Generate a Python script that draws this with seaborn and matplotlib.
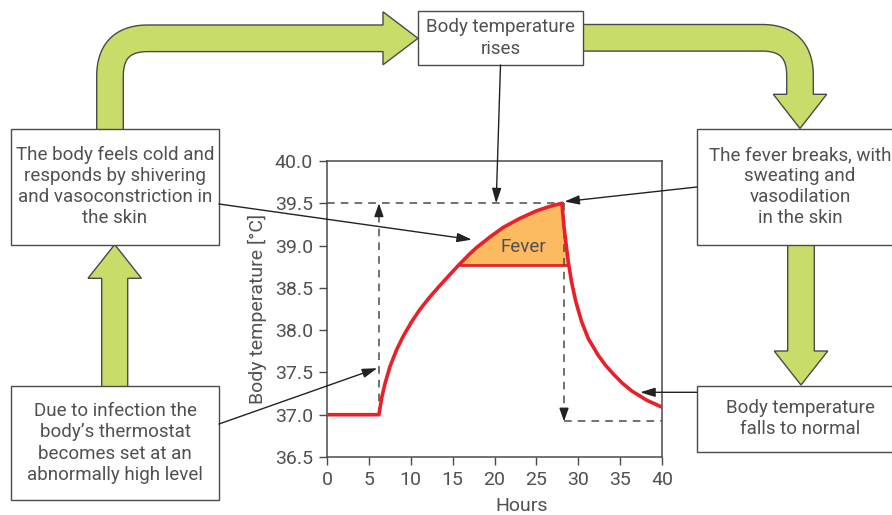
import numpy as np
import pandas as pd
import matplotlib
matplotlib.use("Agg")
import matplotlib.pyplot as plt
import seaborn as sns
from matplotlib.patches import Polygon, Rectangle

# data
hours = [0, 6.2, 6.53, 6.93, 7.52, 8.32, 9.11, 10.11, 11.1, 12.3, 13.5, 14.7,
         15.68, 17.07, 17.9, 19.5, 21.05, 23.0, 25.0, 26.5, 28.05,
         28.3, 28.54, 28.81, 29.2, 29.7, 30.4, 31.2, 32.4, 33.3, 34.2, 35.3,
         36.4, 38.2, 40.0]
temps = [37.0, 37.0, 37.20, 37.37, 37.57, 37.77, 37.93, 38.10, 38.245, 38.395,
         38.53, 38.66, 38.765, 38.905, 38.98, 39.105, 39.215, 39.32, 39.41, 39.46,
         39.5, 39.22, 39.02, 38.81, 38.57, 38.34, 38.10, 37.90, 37.70, 37.58,
         37.48, 37.37, 37.28, 37.17, 37.09]
fever_level = 38.77
fever_start, fever_end = 15.7, 28.8
set_point = 39.5
normal_level = 36.92
rise_hour = 6.2
break_hour = 28.3

x_ticks = list(range(0, 45, 5))
y_ticks = [36.5, 37.0, 37.5, 38.0, 38.5, 39.0, 39.5, 40.0]

df = pd.DataFrame({"Hours": hours, "Temp": temps})

sns.set_theme(style="ticks")
plt.rcParams["font.family"] = ["Roboto", "DejaVu Sans"]
txt = "#505050"
edge = "#4a4a4a"
red = "#e8202a"
green = "#c8dc6a"

fig = plt.figure(figsize=(8.92, 5.15), dpi=100)
W, H = 892, 515
ax = fig.add_axes([327 / W, 1 - 457 / H, 335 / W, 296 / H])

# fever area
t = np.array(temps)
ax.fill_between(hours, t, fever_level, where=t >= fever_level, interpolate=True,
                color="#fbb960", linewidth=0, zorder=2)
ax.hlines(fever_level, fever_start, fever_end, color=red, lw=2, zorder=3)
sns.lineplot(data=df, x="Hours", y="Temp", ax=ax, color=red, lw=2.6,
             sort=False, zorder=4, solid_joinstyle="round")
ax.text(23.4, 38.98, "Fever", ha="center", va="center", fontsize=13.5, color=txt)

# dashed guide lines
dash = dict(color=edge, lw=1.1, ls=(0, (5, 4)), zorder=3)
ax.plot([0, break_hour], [set_point, set_point], **dash)
ax.plot([rise_hour, rise_hour], [37.0, set_point - 0.05], **dash)
ax.plot([break_hour, break_hour], [set_point, normal_level + 0.05], **dash)
ax.plot([break_hour, 40], [normal_level, normal_level], **dash)
head = dict(arrowstyle="-|>,head_length=0.8,head_width=0.28", color="#222222",
            lw=1, shrinkA=0, shrinkB=0, mutation_scale=10)
ax.annotate("", xy=(rise_hour, set_point), xytext=(rise_hour, set_point - 0.15),
            arrowprops=head, zorder=5)
ax.annotate("", xy=(break_hour, normal_level),
            xytext=(break_hour, normal_level + 0.15), arrowprops=head, zorder=5)

ax.set_xlim(0, 40)
ax.set_ylim(36.5, 40.0)
ax.set_xticks(x_ticks)
ax.set_yticks(y_ticks)
ax.set_yticklabels([f"{v:.1f}" for v in y_ticks])
ax.tick_params(labelsize=14, colors=txt, length=6, width=1, color=edge, pad=4)
for s in ax.spines.values():
    s.set_color(edge)
    s.set_linewidth(1.1)
    s.set_visible(True)
ax.set_xlabel("Hours", fontsize=14, color=txt)
ax.xaxis.set_label_coords(0.58, -0.135)
ax.set_ylabel("Body temperature [°C]", fontsize=14, color=txt, labelpad=6)

# overlay in pixel coordinates for the flow diagram
ov = fig.add_axes([0, 0, 1, 1], facecolor="none")
ov.set_xlim(0, W)
ov.set_ylim(H, 0)
ov.axis("off")


def fat_arrow(pts, tip, w, hw):
    pts = np.asarray(pts, float)
    d = np.gradient(pts, axis=0)
    d /= np.linalg.norm(d, axis=1)[:, None]
    nrm = np.column_stack([-d[:, 1], d[:, 0]])
    left = pts + nrm * w
    right = pts - nrm * w
    hb, nb = pts[-1], nrm[-1]
    poly = np.vstack([left, [hb + nb * hw, tip, hb - nb * hw], right[::-1]])
    ov.add_patch(Polygon(poly, closed=True, fc=green, ec=edge, lw=1, zorder=1))


def bent(p0, pc, p1, r, n=40):
    p0, pc, p1 = map(lambda p: np.array(p, float), (p0, pc, p1))
    d1 = (pc - p0) / np.linalg.norm(pc - p0)
    d2 = (p1 - pc) / np.linalg.norm(p1 - pc)
    a, b = pc - d1 * r, pc + d2 * r
    s1 = [p0 + (a - p0) * u for u in np.linspace(0, 1, 20)[:-1]]
    tt = np.linspace(0, 1, n)
    arc = [(1 - u) ** 2 * a + 2 * u * (1 - u) * pc + u ** 2 * b for u in tt]
    s2 = [b + (p1 - b) * u for u in np.linspace(0, 1, 20)[1:]]
    return s1 + arc + s2


def straight(p0, p1):
    p0, p1 = np.array(p0, float), np.array(p1, float)
    return [p0 + (p1 - p0) * u for u in np.linspace(0, 1, 20)]


fat_arrow(bent((110, 130), (110, 38.3), (383, 38.3), 38), (418, 38.3), 13.3, 26.5)
fat_arrow(bent((580, 37.8), (800, 37.8), (800, 94.3), 38), (800, 128.5), 13.3, 26.7)
fat_arrow(straight((801, 242), (801, 351)), (801, 385), 13.3, 26.8)
fat_arrow(straight((114.7, 388), (114.7, 278.3)), (114.7, 244.5), 13, 26.7)

boxes = [
    ((418, 11), 165, 54, "Body temperature\nrises", (500.5, 38)),
    ((11, 128.5), 208, 116, "The body feels cold and\nresponds by shivering\n"
     "and vasoconstriction in\nthe skin", (115, 186.5)),
    ((697, 128.5), 210, 116, "The fever breaks, with\nsweating and\nvasodilation\n"
     "in the skin", (800, 186.5)),
    ((11, 385.5), 208, 114.5, "Due to infection the\nbody’s thermostat\n"
     "becomes set at an\nabnormally high level", (115, 443)),
    ((697, 385.5), 210, 66, "Body temperature\nfalls to normal", (800, 418.7)),
]
for (x0, y0), bw, bh, label, (cx, cy) in boxes:
    ov.add_patch(Rectangle((x0, y0), bw, bh, fc="white", ec=edge, lw=1,
                           zorder=2, clip_on=False))
    ov.text(cx, cy, label, ha="center", va="center", fontsize=13.5, color=txt,
            linespacing=1.22, zorder=3)

# thin pointer arrows from boxes to the curve
thin = dict(arrowstyle="-|>,head_length=0.9,head_width=0.28", color="#222222",
            lw=1, shrinkA=0, shrinkB=0, mutation_scale=10)
pointers = [
    ((500.5, 65), (20.2, set_point)),
    ((697, 187), (28.35, 39.52)),
    ((219, 204), (17.3, 39.07)),
    ((219, 424), (6.0, 37.55)),
    ((697, 392.3), (37.4, 37.265)),
]
for (px, py), (dx, dy) in pointers:
    ov.annotate("", xy=(dx, dy), xycoords=ax.transData, xytext=(px, py),
                textcoords=ov.transData, arrowprops=thin, zorder=4,
                annotation_clip=False)

fig.savefig("out.png", dpi=100)
